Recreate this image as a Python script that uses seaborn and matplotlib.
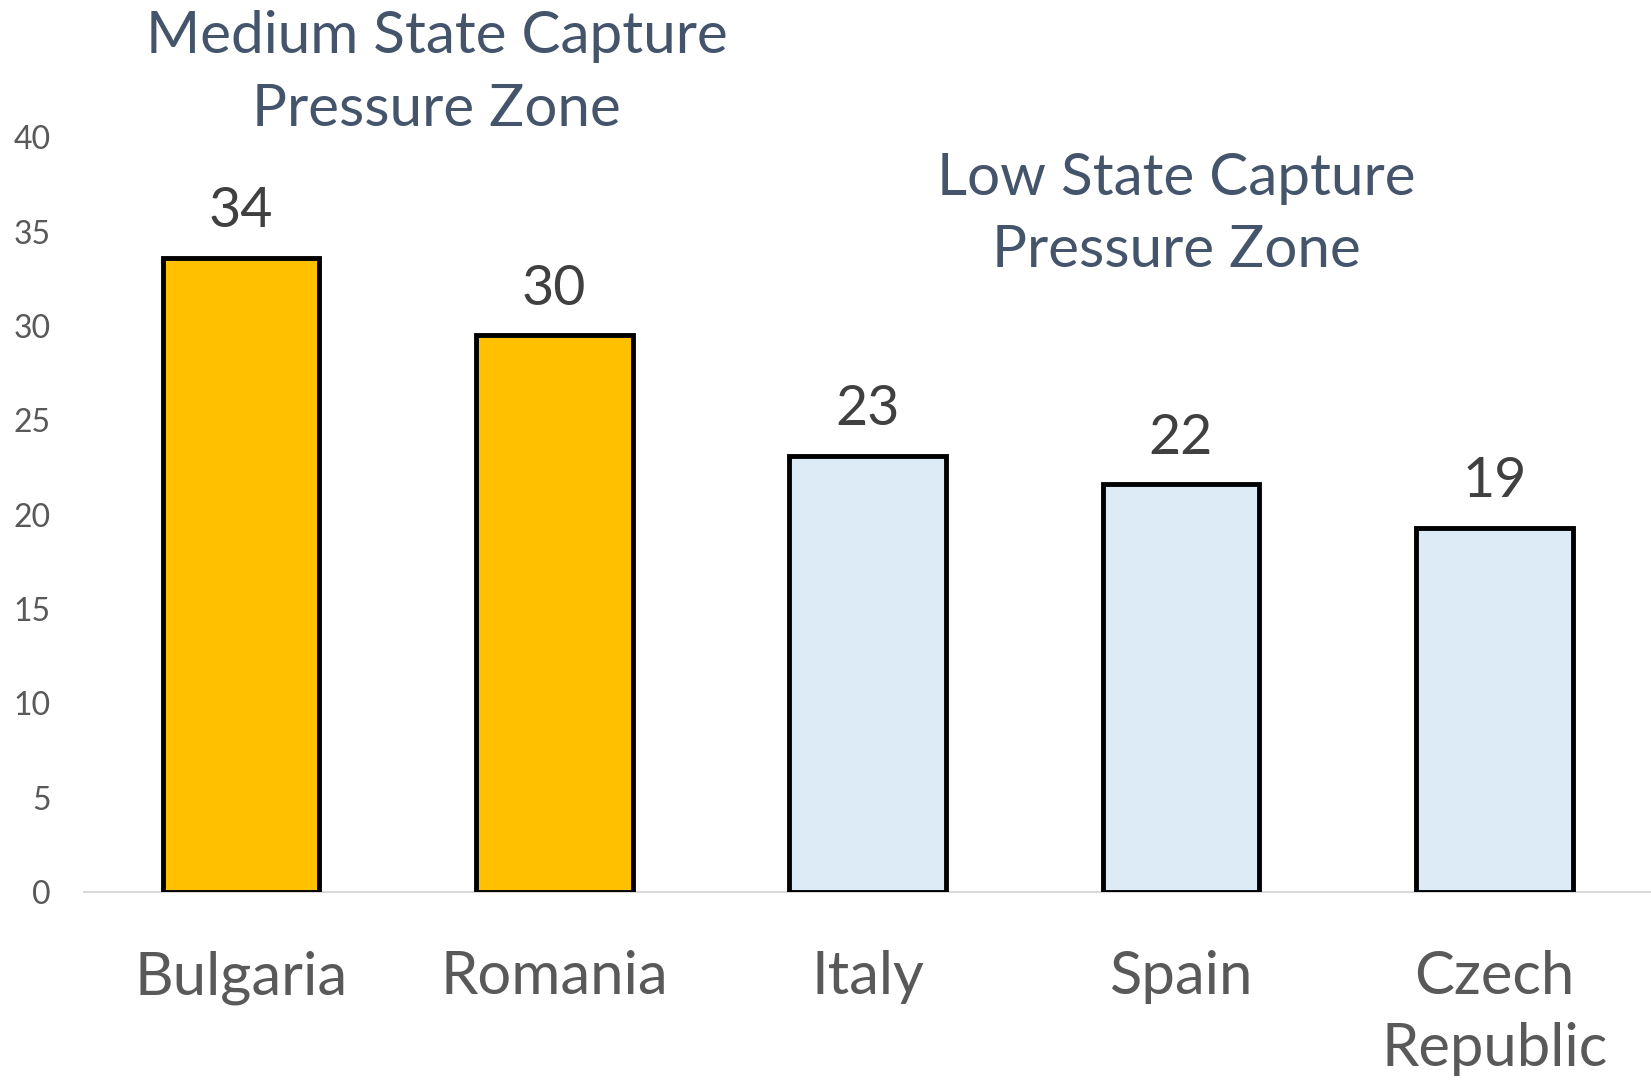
import matplotlib
matplotlib.use('Agg')
import matplotlib.pyplot as plt
import seaborn as sns

countries = ['Bulgaria', 'Romania', 'Italy', 'Spain', 'Czech\nRepublic']
values = [33.6, 29.5, 23.1, 21.6, 19.3]
value_labels = ['34', '30', '23', '22', '19']
bar_colors = ['#FFC000', '#FFC000', '#DDEBF7', '#DDEBF7', '#DDEBF7']
y_ticks = [0, 5, 10, 15, 20, 25, 30, 35, 40]

sns.set_style('white')
plt.rcParams['font.family'] = ['Lato', 'DejaVu Sans']

fig = plt.figure(figsize=(16.51, 10.81), dpi=100)
ax = fig.add_axes([0.051, 0.175, 0.949, 0.698])

sns.barplot(x=countries, y=values, hue=countries, palette=bar_colors,
            width=0.5, edgecolor='black', linewidth=3.5, legend=False,
            saturation=1, ax=ax)

# one container per hue level -> one rounded label each
for i, c in enumerate(ax.containers):
    ax.bar_label(c, labels=[value_labels[i]], padding=15, fontsize=40, color='#404040')

ax.set_xlim(-0.5, 4.5)
ax.set_ylim(0, 40)
ax.set_yticks(y_ticks)
ax.set_yticklabels([str(v) for v in y_ticks], fontsize=23, color='#595959')
ax.tick_params(axis='y', length=0, pad=24)
ax.tick_params(axis='x', length=0, pad=42, labelsize=43, labelcolor='#595959')
for lbl in ax.get_xticklabels():
    lbl.set_linespacing(1.4)

for side in ['top', 'right', 'left']:
    ax.spines[side].set_visible(False)
ax.spines['bottom'].set_color('#D9D9D9')
ax.spines['bottom'].set_linewidth(1.5)
ax.spines['bottom'].set_zorder(0)

ax.text(0.625, 43.4, 'Medium State Capture\nPressure Zone', ha='center', va='center',
        fontsize=42, color='#44546A', linespacing=1.45, clip_on=False)
ax.text(2.985, 35.9, 'Low State Capture\nPressure Zone', ha='center', va='center',
        fontsize=42, color='#44546A', linespacing=1.45, clip_on=False)

fig.savefig('out.png', dpi=100)
